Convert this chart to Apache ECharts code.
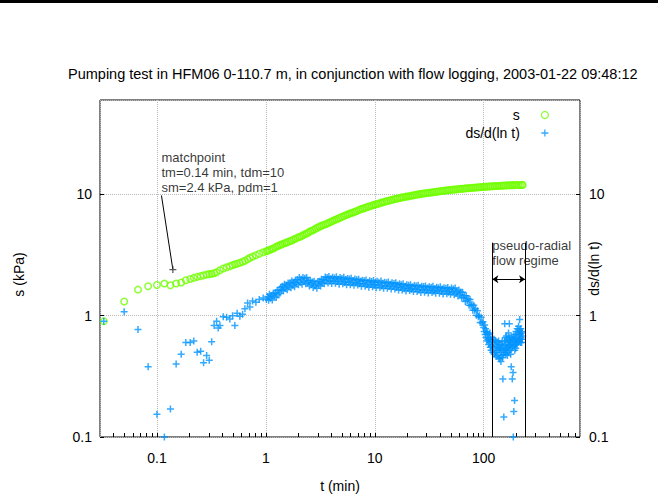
<!DOCTYPE html>
<html><head><meta charset="utf-8">
<script src="https://cdn.jsdelivr.net/npm/echarts@6/dist/echarts.min.js"></script>
<style>html,body{margin:0;padding:0;background:#fff;overflow:hidden}#c{width:658px;height:495px}</style>
</head><body><div id="c"></div>
<script>
// ---------- data ----------
const titleText = 'Pumping test in HFM06 0-110.7 m, in conjunction with flow logging, 2003-01-22 09:48:12';
const xRange = [0.03, 766];
const yRange = [0.1, 60];
const xMinorTicks = [0.04,0.05,0.06,0.07,0.08,0.09,0.2,0.3,0.4,0.5,0.6,0.7,0.8,0.9,2,3,4,5,6,7,8,9,20,30,40,50,60,70,80,90,200,300,400,500,600,700];

// s (kPa) : [t (min), s]
const sData = [
[0.0325,0.90],[0.050,1.31],[0.067,1.64],[0.083,1.75],[0.100,1.79],[0.117,1.84],[0.133,1.78],[0.150,1.84],[0.167,1.88],[0.184,1.96],
[0.202,2.01],[0.218,2.05],[0.234,2.09],[0.252,2.12],[0.268,2.15],[0.286,2.18],[0.302,2.20],[0.318,2.22],[0.335,2.24],[0.353,2.28],
[0.379,2.37],[0.406,2.45],[0.436,2.51],[0.467,2.56],[0.495,2.61],[0.519,2.65],[0.545,2.68],[0.577,2.73],[0.611,2.78],[0.642,2.84],
[0.68,2.92],[0.713,3.00],[0.755,3.07],[0.81,3.15],[0.87,3.24],[0.945,3.33],[1.01,3.40],
[1.04,3.43],[1.08,3.48],[1.12,3.53],[1.17,3.58],[1.22,3.66],[1.27,3.74],[1.32,3.78],[1.37,3.84],[1.42,3.89],[1.48,3.96],
[1.54,4.00],[1.60,4.06],[1.67,4.12],[1.73,4.17],[1.80,4.26],[1.87,4.30],[1.95,4.40],[2.03,4.46],[2.11,4.52],[2.19,4.60],
[2.28,4.70],[2.37,4.76],[2.46,4.86],[2.56,4.96],[2.67,5.04],[2.77,5.12],[2.88,5.24],[3.00,5.34],[3.12,5.44],[3.24,5.52],
[3.37,5.60],[3.51,5.66],[3.65,5.74],[3.79,5.83],[3.95,5.95],[4.10,6.04],[4.27,6.14],[4.44,6.22],[4.62,6.33],[4.80,6.42],
[4.99,6.54],[5.19,6.62],[5.40,6.72],[5.62,6.82],[5.84,6.92],[6.07,7.02],[6.32,7.10],[6.57,7.20],[6.83,7.30],[7.11,7.42],
[7.39,7.52],[7.69,7.62],[7.99,7.70],[8.31,7.80],[8.65,7.90],[8.99,7.98],[9.35,8.08],[9.73,8.16],[10.1,8.26],[10.5,8.34],
[10.9,8.42],[11.4,8.52],[11.8,8.60],[12.3,8.68],[12.8,8.78],[13.3,8.86],[13.9,8.94],[14.4,9.02],[15.0,9.12],[15.6,9.20],
[16.2,9.26],[16.9,9.34],[17.5,9.40],[18.2,9.46],[19.0,9.54],[19.7,9.60],[20.5,9.66],[21.3,9.72],[22.2,9.80],[23.1,9.86],
[24.0,9.92],[25.0,10.0],[26.0,10.05],[27.0,10.1],[28.1,10.16],[29.2,10.22],[30.4,10.28],[31.6,10.32],[32.9,10.38],[34.2,10.42],
[35.5,10.48],[37.0,10.52],[38.4,10.58],[40.0,10.64],[41.6,10.68],[43.2,10.72],[45.0,10.78],[46.8,10.82],[48.6,10.86],[50.6,10.9],
[52.6,10.94],[54.7,10.98],[56.9,11.02],[59.2,11.06],[61.5,11.1],[64.0,11.14],[66.6,11.18],[69.2,11.22],[72.0,11.26],[74.9,11.3],
[77.9,11.32],[81.0,11.36],[84.2,11.4],[87.6,11.42],[91.1,11.46],[94.7,11.5],[98.5,11.52],[102,11.55],[106,11.58],[111,11.62],
[115,11.64],[120,11.66],[125,11.7],[130,11.72],[135,11.74],[140,11.76],[146,11.8],[152,11.82],[158,11.84],[164,11.86],
[171,11.88],[178,11.9],[185,11.92],[192,11.93],[200,11.94],[208,11.95],[216,11.96],[225,11.97],[228,11.98]
];

// ds/d(ln t) : [t (min), ds]
const dsData = [
[0.0325,0.90],[0.050,1.08],[0.067,0.77],[0.083,0.38],[0.100,0.154],[0.117,0.100],[0.133,0.17],[0.150,0.40],[0.167,0.48],[0.184,0.60],
[0.202,0.60],[0.218,0.62],[0.234,0.50],[0.252,0.51],[0.268,0.41],[0.286,0.47],[0.302,0.43],[0.318,0.61],[0.335,0.83],[0.353,0.90],
[0.365,0.79],[0.379,0.83],[0.406,0.98],[0.436,0.97],[0.467,0.94],[0.495,1.00],[0.519,0.83],[0.545,1.05],[0.577,0.99],[0.611,1.03],
[0.642,1.14],[0.68,1.27],[0.713,1.18],[0.755,1.32],[0.81,1.29],[0.87,1.36],[0.945,1.40],[1.01,1.36],
[1.04,1.44],[1.06,1.34],[1.08,1.50],[1.10,1.39],[1.12,1.47],[1.145,1.35],[1.17,1.53],[1.195,1.44],[1.22,1.55],[1.245,1.41],
[1.27,1.61],[1.295,1.49],[1.32,1.63],[1.345,1.53],[1.37,1.72],[1.395,1.63],[1.42,1.75],[1.45,1.60],[1.48,1.82],[1.51,1.68],
[1.54,1.79],[1.57,1.64],[1.60,1.86],[1.635,1.74],[1.67,1.87],[1.70,1.70],[1.73,1.93],[1.765,1.78],[1.80,1.89],[1.835,1.73],
[1.87,1.97],[1.91,1.85],[1.95,1.99],[1.99,1.80],[2.03,2.06],[2.07,1.89],[2.11,2.00],[2.15,1.82],[2.19,2.06],[2.235,1.92],
[2.28,2.04],[2.325,1.83],[2.37,2.06],[2.415,1.87],[2.46,1.95],[2.51,1.76],[2.56,1.96],[2.615,1.81],[2.67,1.90],[2.72,1.71],
[2.77,1.92],[2.825,1.76],[2.88,1.85],[2.94,1.68],[3.00,1.91],[3.06,1.79],[3.12,1.92],[3.18,1.76],[3.24,2.00],[3.305,1.86],
[3.37,1.99],[3.44,1.83],[3.51,2.08],[3.58,1.94],[3.65,2.06],[3.72,1.86],[3.79,2.10],[3.87,1.92],[3.95,2.02],[4.025,1.84],
[4.10,2.07],[4.185,1.93],[4.27,2.05],[4.355,1.85],[4.44,2.09],[4.53,1.91],[4.62,2.00],[4.71,1.82],[4.80,2.06],[4.895,1.92],
[4.99,2.03],[5.09,1.83],[5.19,2.07],[5.295,1.88],[5.40,1.98],[5.51,1.80],[5.62,2.03],[5.73,1.89],[5.84,2.01],[5.955,1.80],
[6.07,2.04],[6.195,1.86],[6.32,1.95],[6.445,1.78],[6.57,2.01],[6.70,1.86],[6.83,1.98],[6.97,1.79],[7.11,2.00],[7.25,1.83],
[7.39,1.92],[7.54,1.75],[7.69,1.96],[7.84,1.83],[7.99,1.94],[8.15,1.75],[8.31,1.97],[8.48,1.80],[8.65,1.89],[8.82,1.72],
[8.99,1.94],[9.17,1.81],[9.35,1.91],[9.54,1.73],[9.73,1.95],[9.92,1.78],[10.1,1.88],[10.3,1.70],[10.5,1.92],[10.7,1.79],
[10.9,1.89],[11.15,1.71],[11.4,1.93],[11.6,1.76],[11.8,1.85],[12.05,1.68],[12.3,1.89],[12.55,1.76],[12.8,1.87],[13.05,1.68],
[13.3,1.90],[13.6,1.74],[13.9,1.82],[14.15,1.66],[14.4,1.87],[14.7,1.74],[15.0,1.84],[15.3,1.66],[15.6,1.87],[15.9,1.71],
[16.2,1.79],[16.55,1.63],[16.9,1.83],[17.2,1.71],[17.5,1.80],[17.85,1.63],[18.2,1.83],[18.6,1.67],[19.0,1.75],[19.35,1.60],
[19.7,1.80],[20.1,1.68],[20.5,1.78],[20.9,1.61],[21.3,1.80],[21.75,1.65],[22.2,1.73],[22.65,1.58],[23.1,1.77],[23.55,1.66],
[24.0,1.76],[24.5,1.58],[25.0,1.78],[25.5,1.63],[26.0,1.71],[26.5,1.55],[27.0,1.75],[27.55,1.64],[28.1,1.74],[28.65,1.56],
[29.2,1.76],[29.8,1.61],[30.4,1.69],[31.0,1.54],[31.6,1.73],[32.25,1.62],[32.9,1.72],[33.55,1.55],[34.2,1.75],[34.85,1.59],
[35.5,1.67],[36.25,1.53],[37.0,1.72],[37.7,1.61],[38.4,1.70],[39.2,1.53],[40.0,1.73],[40.8,1.58],[41.6,1.66],[42.4,1.51],
[43.2,1.70],[44.1,1.59],[45.0,1.68],[45.9,1.52],[46.8,1.71],[47.7,1.56],[48.6,1.64],[49.6,1.50],[50.6,1.69],[51.6,1.57],
[52.6,1.66],[53.65,1.49],[54.7,1.69],[55.8,1.53],[56.9,1.60],[58.05,1.45],[59.2,1.63],[60.35,1.50],[61.5,1.57],[62.75,1.40],
[64.0,1.56],[65.3,1.41],[66.6,1.46],[67.9,1.31],[69.2,1.46],[70.6,1.33],[72.0,1.38],[73.45,1.22],[74.9,1.36],[76.4,1.21],
[77.9,1.24],[79.45,1.11],[81.0,1.22],[82.6,1.11],[84.2,1.14],[85.9,1.01],[87.6,1.10],[89.35,0.98],[91.1,1.00],[92.9,0.88],
[94.7,0.97],[96.6,0.87],[98.5,0.89],
[100,0.80],[101,0.74],[102,0.84],[103,0.70],[104,0.78],[105,0.66],[106,0.74],[107,0.62],[108,0.72],[109,0.64],
[110,0.70],[111,0.58],[112,0.66],[113,0.60],[114,0.72],[115,0.55],[116,0.64],[117,0.52],[118,0.62],[119,0.56],
[120,0.66],[121,0.50],[122,0.60],[123,0.54],[124,0.64],[125,0.48],[126,0.58],[128,0.50],[129,0.62],[130,0.46],
[131,0.56],[132,0.52],[134,0.60],[135,0.47],[136,0.55],[137,0.62],[138,0.45],[139,0.52],[140,0.58],[141,0.44],
[142,0.54],[143,0.50],[144,0.42],[145,0.58],[146,0.47],[147,0.53],[148,0.62],[149,0.45],[150,0.30],[151,0.56],
[152,0.48],[153,0.146],[154,0.52],[155,0.62],[156,0.86],[157,0.50],[158,0.57],[159,0.66],[160,0.48],[161,0.54],
[162,0.68],[163,0.52],[164,0.60],[165,0.47],[166,0.64],[167,0.55],[168,0.50],[169,0.72],[170,0.58],[171,0.62],
[172,0.86],[173,0.52],[174,0.66],[175,0.56],[176,0.62],[177,0.48],[178,0.58],[179,0.38],[180,0.66],[181,0.54],
[182,0.60],[183,0.30],[184,0.56],[185,0.64],[186,0.34],[187,0.10],[188,0.68],[189,0.162],[190,0.56],[191,0.62],
[192,0.20],[193,0.52],[194,0.70],[195,0.58],[196,0.64],[197,0.54],[198,0.74],[199,0.60],[200,0.66],[202,0.58],
[203,0.78],[204,0.62],[206,0.70],[207,0.60],[209,0.82],[210,0.64],[211,0.72],[212,0.62],[213,0.76],[214,0.93],
[215,0.64],[216,0.70],[218,0.60],[219,0.78],[220,0.66],[222,0.72],[223,0.60],[225,0.74],[226,0.64],[228,0.68]
];

// annotations
const matchPoint = [0.14, 2.4];
const matchArrowFrom = [0.11, 9.8];
const matchLabelAt = [0.11, 9.9];
const matchLabel = 'matchpoint\ntm=0.14 min, tdm=10\nsm=2.4 kPa, pdm=1';
const regimeT = [120, 240];
const regimeTop = 4;
const regimeArrowY = 2;
const regimeLabelAt = [120, 2.49];
const regimeLabel = 'pseudo-radial\nflow regime';

// ---------- chart ----------
const FONT = '"Liberation Sans", Arial, Helvetica, sans-serif';
const GREEN = '#70ff00';
const BLUE = '#0094ff';
const PLUS = 'path://M0,5L10,5M5,0L5,10';
const GRIDLINE = {show:true, lineStyle:{color:'#b8b8b8', type:'dotted', width:1}};
const fmt = v => String(v);

const chart = echarts.init(document.getElementById('c'), null, {renderer:'svg'});
chart.setOption({
  animation:false,
  backgroundColor:'#fff',
  textStyle:{fontFamily:FONT},
  graphic:[{type:'rect', left:0, top:0, shape:{width:658, height:3}, style:{fill:'#000'}, silent:true}],
  title:{text:titleText, left:63, top:61, textStyle:{fontSize:14.5, fontWeight:'normal', color:'#000', fontFamily:FONT}},
  legend:{
    orient:'vertical', right:104, top:103, align:'right', itemWidth:40, itemHeight:7, itemGap:4,
    selectedMode:false,
    textStyle:{fontSize:14, color:'#000', fontFamily:FONT},
    itemStyle:{borderWidth:1.3},
    data:[{name:'s', icon:'circle'}, {name:'ds/d(ln t)', icon:PLUS}]
  },
  grid:{left:100, right:78, top:100, bottom:58, containLabel:false, outerBoundsMode:'none',
        show:true, borderColor:'#000', borderWidth:1, backgroundColor:'transparent'},
  xAxis:[
    {type:'log', logBase:10, min:xRange[0], max:xRange[1], position:'bottom',
     name:'t (min)', nameLocation:'middle', nameGap:42, nameMoveOverlap:false,
     nameTextStyle:{fontSize:14, color:'#000', fontFamily:FONT},
     axisLine:{show:false, onZero:false},
     axisTick:{show:true, inside:true, length:4, lineStyle:{color:'#000'}},
     axisLabel:{fontSize:14, color:'#000', margin:14, showMinLabel:false, showMaxLabel:false, formatter:fmt, fontFamily:FONT},
     splitLine:GRIDLINE},
    {type:'log', logBase:10, min:xRange[0], max:xRange[1], position:'bottom',
     axisLine:{show:false, onZero:false}, axisLabel:{show:false}, splitLine:{show:false},
     axisTick:{show:true, inside:true, length:4, customValues:xMinorTicks, lineStyle:{color:'#000'}}}
  ],
  yAxis:[
    {type:'log', logBase:10, min:yRange[0], max:yRange[1], position:'left',
     name:'s (kPa)', nameLocation:'middle', nameGap:74, nameRotate:90, nameMoveOverlap:false,
     nameTextStyle:{fontSize:14, color:'#000', fontFamily:FONT, padding:[0,12,0,0]},
     axisLine:{show:false},
     axisTick:{show:true, inside:true, length:4, lineStyle:{color:'#000'}},
     axisLabel:{fontSize:14, color:'#000', margin:8, showMaxLabel:false, formatter:fmt, fontFamily:FONT},
     splitLine:GRIDLINE},
    {type:'log', logBase:10, min:yRange[0], max:yRange[1], position:'right',
     name:'ds/d(ln t)', nameLocation:'middle', nameGap:7, nameRotate:90, nameMoveOverlap:false,
     nameTextStyle:{fontSize:14, color:'#000', fontFamily:FONT},
     axisLine:{show:false},
     axisTick:{show:true, inside:true, length:4, lineStyle:{color:'#000'}},
     axisLabel:{fontSize:14, color:'#000', margin:9, showMaxLabel:false, formatter:fmt, fontFamily:FONT},
     splitLine:{show:false}}
  ],
  series:[
    {type:'scatter', name:'s', data:sData, xAxisIndex:0, yAxisIndex:0,
     symbol:'circle', symbolSize:6.5, itemStyle:{color:'rgba(0,0,0,0)', borderColor:GREEN, borderWidth:1.5}, z:3},
    {type:'scatter', name:'ds/d(ln t)', data:dsData, xAxisIndex:0, yAxisIndex:1,
     symbol:PLUS, symbolSize:7, itemStyle:{color:'rgba(0,0,0,0)', borderColor:BLUE, borderWidth:1.5}, z:4},
    {type:'scatter', name:'matchpoint', data:[matchPoint], xAxisIndex:0, yAxisIndex:0, silent:true,
     symbol:PLUS, symbolSize:7, itemStyle:{color:'rgba(0,0,0,0)', borderColor:'#333', borderWidth:1.3}, z:5,
     markLine:{silent:true, symbol:['none','arrow'], symbolSize:[0,7], label:{show:false},
       lineStyle:{color:'#000', width:1, type:'solid'},
       data:[[{coord:matchArrowFrom},{coord:matchPoint}]]}},
    {type:'scatter', name:'matchlabel', data:[matchLabelAt], xAxisIndex:0, yAxisIndex:0, silent:true,
     symbolSize:0, z:6,
     label:{show:true, position:[0,0], align:'left', verticalAlign:'bottom', formatter:matchLabel,
       fontSize:13, lineHeight:15, color:'#000', fontFamily:FONT}},
    {type:'scatter', name:'regime', data:[regimeLabelAt], xAxisIndex:0, yAxisIndex:0, silent:true,
     symbolSize:0, z:6,
     label:{show:true, position:[0,0], align:'left', verticalAlign:'bottom', formatter:regimeLabel,
       fontSize:13, lineHeight:15, color:'#000', fontFamily:FONT},
     markLine:{silent:true, symbol:['none','none'], label:{show:false},
       lineStyle:{color:'#000', width:1, type:'solid'},
       data:[[{coord:[regimeT[0], yRange[0]]},{coord:[regimeT[0], regimeTop]}],
             [{coord:[regimeT[1], yRange[0]]},{coord:[regimeT[1], regimeTop]}]]}},
    {type:'scatter', name:'regimeArrow', data:[], xAxisIndex:0, yAxisIndex:0, silent:true,
     markLine:{silent:true, symbol:['arrow','arrow'], symbolSize:6, label:{show:false},
       lineStyle:{color:'#000', width:1, type:'solid'},
       data:[[{coord:[regimeT[0], regimeArrowY]},{coord:[regimeT[1], regimeArrowY]}]]}}
  ]
});
</script>
</body></html>
